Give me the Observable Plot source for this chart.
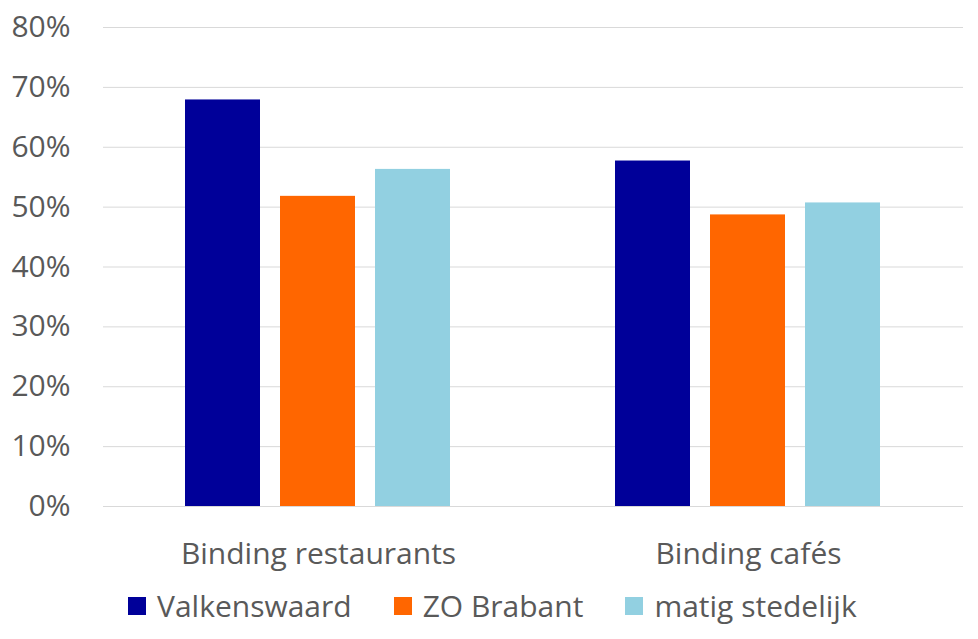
<!DOCTYPE html>
<html>
<head>
<meta charset="utf-8">
<script src="https://cdn.jsdelivr.net/npm/d3@7"></script>
<script src="https://cdn.jsdelivr.net/npm/@observablehq/plot@0.6"></script>
<style>
  html, body { margin: 0; padding: 0; background: #fff; }
  #chart svg { display: block; }
  .leg-swatches { font-family: "Open Sans", sans-serif !important; font-size: 30px !important; color: #595959;
    display: flex; justify-content: flex-start; align-items: center; height: 51px; margin: 0 0 0 128px !important; min-height: 0 !important; }
  .leg-swatch { margin-right: 42px !important; }
  .leg-swatch > svg { margin-right: 11px !important; }
</style>
</head>
<body>
<div id="chart"></div>
<script>
const categories = ["Binding restaurants", "Binding cafés"];
const series = ["Valkenswaard", "ZO Brabant", "matig stedelijk"];
const colors = ["#000099", "#FF6600", "#92D0E1"];
const valkenswaard = [67.9, 57.7];
const zoBrabant = [51.8, 48.7];
const matigStedelijk = [56.3, 50.7];
const yTicks = [0, 10, 20, 30, 40, 50, 60, 70, 80];

const values = [valkenswaard, zoBrabant, matigStedelijk];
const data = [];
categories.forEach((c, i) => series.forEach((s, j) => data.push({category: c, series: s, value: values[j][i]})));

const plot = Plot.plot({
  width: 978,
  height: 580,
  marginLeft: 103,
  marginRight: 15,
  marginTop: 27,
  marginBottom: 74,
  style: {fontFamily: "Open Sans, sans-serif", fontSize: "30px", color: "#595959", background: "#fff"},
  fx: {domain: categories, padding: 0, axis: "bottom", label: null, tickSize: 0, tickPadding: 36},
  x: {domain: series, paddingInner: 0.21, paddingOuter: 0.856, axis: null},
  y: {domain: [0, 80], ticks: yTicks, tickFormat: d => d + "%", label: null, tickSize: 0, tickPadding: 33},
  color: {domain: series, range: colors},
  marks: [
    Plot.gridY(yTicks, {stroke: "#d9d9d9", strokeOpacity: 1, strokeWidth: 1}),
    Plot.barY(data, {fx: "category", x: "series", y: "value", fill: "series"})
  ]
});
document.getElementById("chart").appendChild(plot);

const legend = Plot.legend({
  color: {domain: series, range: colors},
  legend: "swatches",
  swatchSize: 18,
  className: "leg"
});
document.getElementById("chart").appendChild(legend);
</script>
</body>
</html>
